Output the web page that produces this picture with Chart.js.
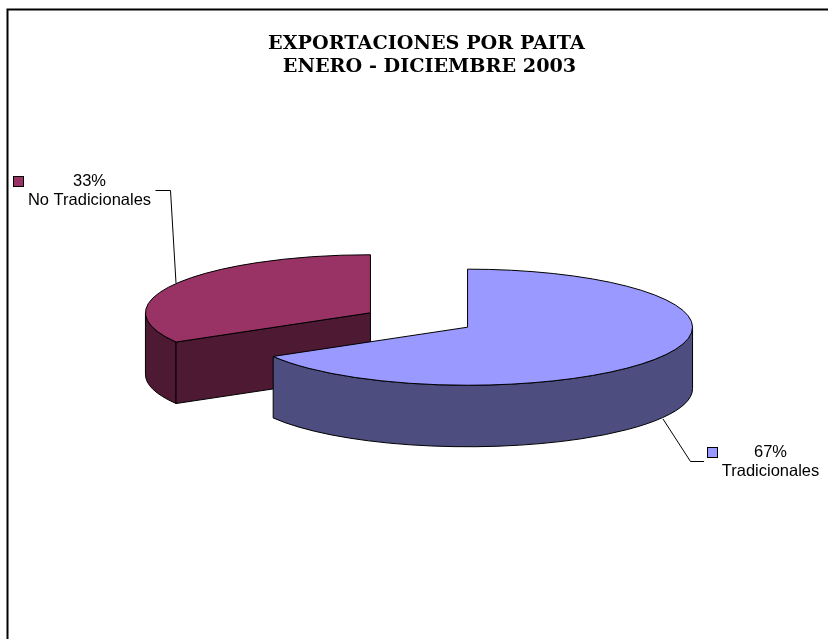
<!DOCTYPE html>
<html>
<head>
<meta charset="utf-8">
<title>Exportaciones por Paita</title>
<script src="https://cdn.jsdelivr.net/npm/chart.js@4"></script>
<style>
  html, body { margin: 0; padding: 0; background: #fff; }
  canvas { display: block; }
</style>
</head>
<body>
<canvas id="chart" width="828" height="639"></canvas>
<script>
'use strict'
const categorias = ['Tradicionales', 'No Tradicionales'];
const valores = [66.6, 33.4];
const colores = ['#9999FF', '#993366'];
const coloresLado = ['#4D4D80', '#4D1933'];
const titulo = ['EXPORTACIONES POR PAITA', 'ENERO - DICIEMBRE 2003'];

// aspecto del pastel 3D
const APLASTADO = 0.258;
const ALTO = 61.5;
const SEPARADO = 56;

function centro(arco){
    const medio = (arco.startAngle + arco.endAngle) / 2;
    return {
        x: arco.x + Math.cos(medio) * SEPARADO,
        y: arco.y + Math.sin(medio) * SEPARADO * APLASTADO
    };
}

function dibujarLado(ctx, arco, i){
    const c = centro(arco);
    const R = arco.outerRadius, r = R * APLASTADO;
    const ini = arco.startAngle, fin = arco.endAngle;
    ctx.fillStyle = coloresLado[i];
    ctx.strokeStyle = '#000';
    ctx.lineWidth = 1;
    // pared exterior
    const a0 = Math.max(ini, 0), a1 = Math.min(fin, Math.PI);
    if (a1 > a0){
        ctx.beginPath();
        ctx.ellipse(c.x, c.y, R, r, 0, a0, a1);
        ctx.ellipse(c.x, c.y + ALTO, R, r, 0, a1, a0, true);
        ctx.closePath();
        ctx.fill();
        ctx.stroke();
    }
    // cortes visibles
    [[ini, -Math.cos(ini)], [fin, Math.cos(fin)]].forEach(([a, cara]) => {
        if (cara <= 0.001) return;
        const ex = c.x + Math.cos(a) * R, ey = c.y + Math.sin(a) * r;
        ctx.beginPath();
        ctx.moveTo(c.x, c.y);
        ctx.lineTo(ex, ey);
        ctx.lineTo(ex, ey + ALTO);
        ctx.lineTo(c.x, c.y + ALTO);
        ctx.closePath();
        ctx.fill();
        ctx.stroke();
    });
}

function dibujarTapa(ctx, arco){
    const c = centro(arco);
    ctx.save();
    ctx.translate(c.x, c.y);
    ctx.scale(1, APLASTADO);
    ctx.translate(-arco.x, -arco.y);
    arco.draw(ctx);
    ctx.restore();
    ctx.strokeStyle = '#000';
    ctx.lineWidth = 1;
    ctx.beginPath();
    ctx.moveTo(c.x, c.y);
    ctx.ellipse(c.x, c.y, arco.outerRadius, arco.outerRadius * APLASTADO, 0, arco.startAngle, arco.endAngle);
    ctx.closePath();
    ctx.stroke();
}

function linea(ctx, puntos){
    ctx.strokeStyle = '#000';
    ctx.lineWidth = 1;
    ctx.beginPath();
    puntos.forEach((p, i) => i ? ctx.lineTo(p[0], p[1]) : ctx.moveTo(p[0], p[1]));
    ctx.stroke();
}

function etiqueta(ctx, i, xCuadro, yCuadro, xTexto, yTexto){
    ctx.fillStyle = colores[i];
    ctx.strokeStyle = '#000';
    ctx.lineWidth = 1;
    ctx.fillRect(xCuadro + 0.5, yCuadro + 0.5, 10, 10);
    ctx.strokeRect(xCuadro + 0.5, yCuadro + 0.5, 10, 10);
    ctx.fillStyle = '#000';
    ctx.font = '16.5px "Liberation Sans"';
    ctx.textAlign = 'center';
    ctx.textBaseline = 'middle';
    ctx.fillText(Math.round(valores[i]) + '%', xTexto, yTexto);
    ctx.fillText(categorias[i], xTexto, yTexto + 19);
}

const pastel3d = {
    id: 'pastel3d',
    beforeDatasetsDraw(chart){
        const ctx = chart.ctx;
        const arcos = chart.getDatasetMeta(0).data;
        ctx.save();
        // marco
        ctx.strokeStyle = '#000';
        ctx.lineWidth = 2;
        ctx.beginPath();
        ctx.moveTo(7.5, 639);
        ctx.lineTo(7.5, 9.5);
        ctx.lineTo(828, 9.5);
        ctx.stroke();
        // titulo
        ctx.fillStyle = '#000';
        ctx.font = 'bold 19.2px "DejaVu Serif"';
        ctx.textAlign = 'center';
        ctx.textBaseline = 'middle';
        ctx.fillText(titulo[0], 426.5, 44);
        ctx.fillText(titulo[1], 429.5, 67);
        // primero el que queda atras
        dibujarLado(ctx, arcos[1], 1);
        dibujarLado(ctx, arcos[0], 0);
        dibujarTapa(ctx, arcos[1]);
        dibujarTapa(ctx, arcos[0]);
        // lineas guia y etiquetas
        linea(ctx, [[155.5, 190.5], [170.5, 190.5], [176, 283]]);
        linea(ctx, [[663, 419], [690.5, 461.5], [704, 461.5]]);
        etiqueta(ctx, 1, 13, 176, 89.5, 181);
        etiqueta(ctx, 0, 707, 447, 770.5, 452);
        ctx.restore();
        return false;
    }
};

new Chart(document.getElementById('chart').getContext('2d'), {
    type: 'pie',
    data: {
        labels: categorias,
        datasets: [{
            data: valores,
            backgroundColor: colores,
            borderWidth: 0
        }]
    },
    options: {
        responsive: false,
        animation: false,
        radius: 225,
        layout: { padding: { left: 92, right: 82, top: 41, bottom: 40 } },
        plugins: {
            legend: { display: false },
            title: { display: false },
            tooltip: { enabled: false }
        }
    },
    plugins: [pastel3d]
});
</script>
</body>
</html>
